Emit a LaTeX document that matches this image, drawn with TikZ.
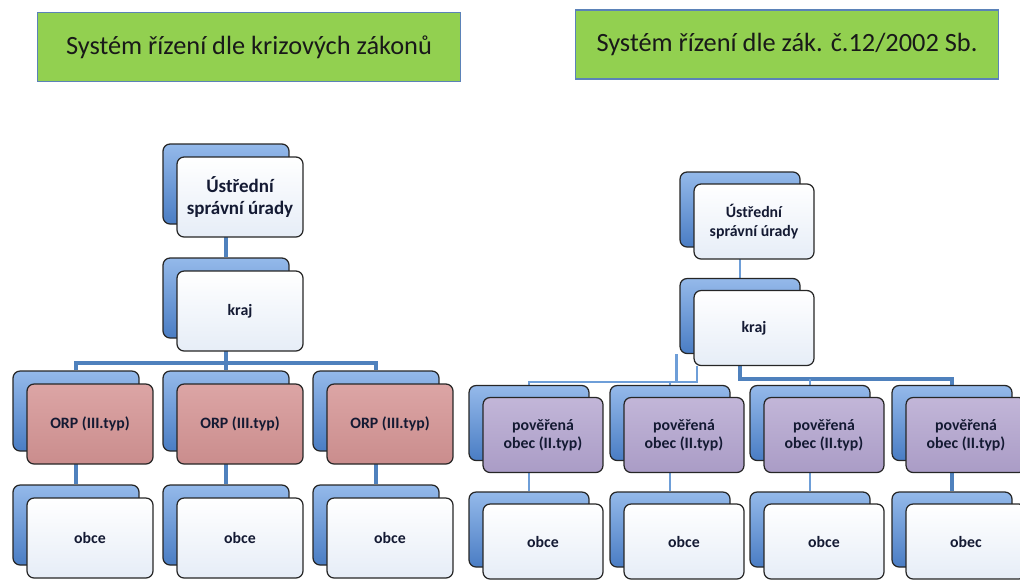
\documentclass[tikz,border=0pt]{standalone}
\usepackage{fontspec}
\setmainfont{Carlito}
\usepackage{tikz}
\usetikzlibrary{backgrounds}
\definecolor{titlegreen}{HTML}{92D050}
\definecolor{titleline}{HTML}{5B82B8}
\definecolor{linkblue}{HTML}{4F81BD}
\definecolor{linklight}{HTML}{6E9ED8}
\definecolor{backtop}{HTML}{94B9EA}
\definecolor{backbot}{HTML}{4A7DC4}
\definecolor{frontbot}{HTML}{E6EDF7}
\definecolor{orptop}{HTML}{DCA5A5}
\definecolor{orpbot}{HTML}{CA8D8D}
\definecolor{obectop}{HTML}{C2B6D8}
\definecolor{obecbot}{HTML}{AA9CC6}
\definecolor{textdark}{HTML}{141A33}

\begin{document}
\begin{tikzpicture}[x=0.02cm,y=-0.02cm,
  title/.style={draw=titleline,line width=0.7pt,fill=titlegreen,minimum width=8.46cm,
    minimum height=1.38cm,inner sep=0pt,font=\fontsize{15}{18}\selectfont,text=black!90},
  box/.style={draw=black!85,line width=0.7pt,rounded corners=4pt,inner sep=0pt},
  boxL/.style={minimum width=2.52cm,minimum height=1.6cm},
  boxR/.style={minimum width=2.4cm,minimum height=1.5cm},
  back/.style={box,top color=backtop,bottom color=backbot},
  front/.style={box,top color=white,bottom color=frontbot,align=center,text=textdark,
    font=\bfseries\fontsize{9}{10.5}\selectfont},
  orp/.style={front,top color=orptop,bottom color=orpbot},
  poverena/.style={front,top color=obectop,bottom color=obecbot},
  link/.style={draw=linkblue,line width=2.2pt},
  linkR/.style={draw=linklight,line width=1.3pt}]
\useasboundingbox (0,0) rectangle (1020,579);
\clip (0,0) rectangle (1020,579);

% Titles
\node[title] (titleL) at (249,47) {Systém řízení dle krizových zákonů};
\node[title] (titleR) at (787,44.5) {Systém řízení dle zák. č.12/2002 Sb.};

% Left tree
\node[back,boxL] (uL) at (226,184) {};
\node[front,boxL,font=\bfseries\fontsize{10.8}{12}\selectfont] (uLf) at ([shift={(14,13)}]uL.center) {Ústřední\\správní úrady};
\node[back,boxL] (krL) at (226,298) {};
\node[front,boxL] (krLf) at ([shift={(14,13)}]krL.center) {kraj};
\node[back,boxL] (orpA) at (76,411) {};
\node[orp,boxL] (orpAf) at ([shift={(14,13)}]orpA.center) {ORP (III.typ)};
\node[back,boxL] (orpB) at (226,411) {};
\node[orp,boxL] (orpBf) at ([shift={(14,13)}]orpB.center) {ORP (III.typ)};
\node[back,boxL] (orpC) at (376,411) {};
\node[orp,boxL] (orpCf) at ([shift={(14,13)}]orpC.center) {ORP (III.typ)};
\node[back,boxL] (obA) at (76,525) {};
\node[front,boxL] (obAf) at ([shift={(14,13)}]obA.center) {obce};
\node[back,boxL] (obB) at (226,525) {};
\node[front,boxL] (obBf) at ([shift={(14,13)}]obB.center) {obce};
\node[back,boxL] (obC) at (376,525) {};
\node[front,boxL] (obCf) at ([shift={(14,13)}]obC.center) {obce};

% Right tree
\node[back,boxR] (uR) at (740,209.5) {};
\node[front,boxR] (uRf) at ([shift={(14,12)}]uR.center) {Ústřední\\správní úrady};
\node[back,boxR] (krR) at (740,316) {};
\node[front,boxR] (krRf) at ([shift={(14,12)}]krR.center) {kraj};
\node[back,boxR] (pA) at (529,423) {};
\node[poverena,boxR] (pAf) at ([shift={(14,12)}]pA.center) {pověřená\\obec (II.typ)};
\node[back,boxR] (pB) at (670,423) {};
\node[poverena,boxR] (pBf) at ([shift={(14,12)}]pB.center) {pověřená\\obec (II.typ)};
\node[back,boxR] (pC) at (810,423) {};
\node[poverena,boxR] (pCf) at ([shift={(14,12)}]pC.center) {pověřená\\obec (II.typ)};
\node[back,boxR] (pD) at (952,423) {};
\node[poverena,boxR] (pDf) at ([shift={(14,12)}]pD.center) {pověřená\\obec (II.typ)};
\node[back,boxR] (oA) at (529,529.5) {};
\node[front,boxR] (oAf) at ([shift={(14,12)}]oA.center) {obce};
\node[back,boxR] (oB) at (670,529.5) {};
\node[front,boxR] (oBf) at ([shift={(14,12)}]oB.center) {obce};
\node[back,boxR] (oC) at (810,529.5) {};
\node[front,boxR] (oCf) at ([shift={(14,12)}]oC.center) {obce};
\node[back,boxR] (oD) at (952,529.5) {};
\node[front,boxR] (oDf) at ([shift={(14,12)}]oD.center) {obec};

\begin{scope}[on background layer]
% Left connectors
\coordinate (busL) at (226,363);
\draw[link] (uL) -- (krL);
\draw[link] (krL) -- (orpB);
\draw[link] (orpA) |- (busL) -| (orpC);
\draw[link] (orpA) -- (obA);
\draw[link] (orpB) -- (obB);
\draw[link] (orpC) -- (obC);
% Right connectors
\coordinate (busRa) at (697,382);
\coordinate (busRb) at (740,379);
\draw[linkR] (uR) -- (krR);
\draw[linkR] (pA) |- (busRa) -- (busRa |- krRf.south);
\draw[linkR] (pB) -- (pB |- busRa);
\draw[linkR] ([xshift=-0.06cm]krR.south west) -- ([xshift=-0.06cm]krR.south west |- busRa);
\draw[linkR,draw=linkblue,line width=2pt] (krR) -- (busRb) -| (pD);
\draw[linkR] (pC) -- (pC |- busRb);
\draw[linkR] (pA) -- (oA);
\draw[linkR] (pB) -- (oB);
\draw[linkR] (pC) -- (oC);
\draw[link] (pD) -- (oD);
\end{scope}
\end{tikzpicture}
\end{document}
